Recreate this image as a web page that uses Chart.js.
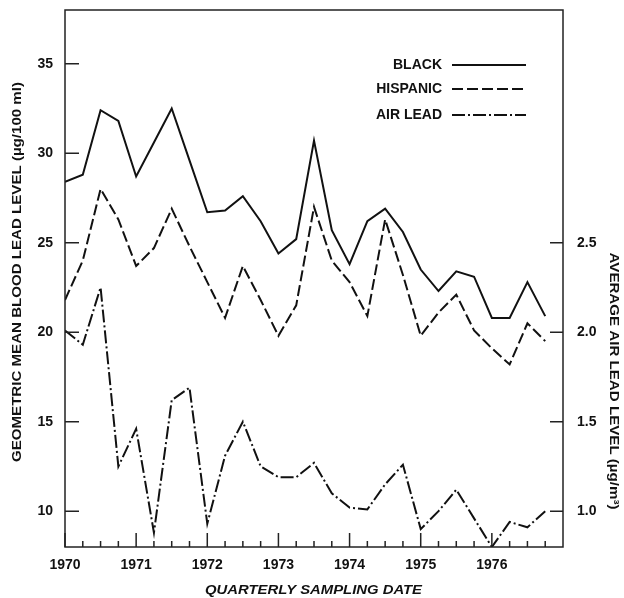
<!DOCTYPE html>
<html>
<head>
<meta charset="utf-8">
<script src="https://cdn.jsdelivr.net/npm/chart.js@4.4.1/dist/chart.umd.min.js"></script>
<style>
html,body{margin:0;padding:0;background:#fff;}
canvas{display:block;}
</style>
</head>
<body>
<canvas id="c" width="624" height="598"></canvas>
<script>
const quarters = [1970, 1970.25, 1970.5, 1970.75, 1971, 1971.25, 1971.5, 1971.75,
  1972, 1972.25, 1972.5, 1972.75, 1973, 1973.25, 1973.5, 1973.75,
  1974, 1974.25, 1974.5, 1974.75, 1975, 1975.25, 1975.5, 1975.75,
  1976, 1976.25, 1976.5, 1976.75];
const black = [28.4, 28.8, 32.4, 31.8, 28.7, 30.6, 32.5, 29.6, 26.7, 26.8, 27.6, 26.2, 24.4, 25.2,
  30.7, 25.7, 23.8, 26.2, 26.9, 25.6, 23.5, 22.3, 23.4, 23.1, 20.8, 20.8, 22.8, 20.9];
const hispanic = [21.8, 24.0, 28.0, 26.3, 23.7, 24.7, 26.9, 24.8, 22.8, 20.8, 23.7, 21.8, 19.8, 21.5,
  27.0, 24.0, 22.8, 20.9, 26.3, 23.2, 19.8, 21.1, 22.1, 20.1, 19.1, 18.2, 20.5, 19.5];
const airLead = [2.01, 1.93, 2.25, 1.25, 1.46, 0.88, 1.62, 1.69, 0.93, 1.31, 1.50, 1.25, 1.19, 1.19,
  1.27, 1.10, 1.02, 1.01, 1.15, 1.26, 0.90, 1.00, 1.12, 0.96, 0.80, 0.94, 0.91, 1.00];
const yearTicks = [1970, 1971, 1972, 1973, 1974, 1975, 1976];
const leftTicks = [10, 15, 20, 25, 30, 35];
const rightTicks = [1.0, 1.5, 2.0, 2.5];
const seriesNames = ['BLACK', 'HISPANIC', 'AIR LEAD'];
const leftTitle = 'GEOMETRIC MEAN BLOOD LEAD LEVEL (\u00b5g/100 ml)';
const rightTitle = 'AVERAGE AIR LEAD LEVEL (\u00b5g/m\u00b3)';
const bottomTitle = 'QUARTERLY SAMPLING DATE';

const INK = '#111';
const FONT = '"Liberation Sans", Arial, Helvetica, sans-serif';
const dashes = [[], [11, 4], [13, 3, 2, 3]];

function pts(arr) { return arr.map((v, i) => ({ x: quarters[i], y: v })); }

const deco = {
  id: 'deco',
  afterDraw(chart) {
    const { ctx, chartArea: a, scales } = chart;
    ctx.save();
    ctx.strokeStyle = '#222';
    ctx.lineWidth = 1.5;
    ctx.strokeRect(a.left, a.top, a.right - a.left, a.bottom - a.top);
    ctx.beginPath();
    leftTicks.forEach(v => {
      const y = scales.y.getPixelForValue(v);
      ctx.moveTo(a.left, y); ctx.lineTo(a.left + 14, y);
    });
    rightTicks.forEach(v => {
      const y = scales.y2.getPixelForValue(v);
      ctx.moveTo(a.right, y); ctx.lineTo(a.right - 13, y);
    });
    quarters.forEach(q => {
      const x = scales.x.getPixelForValue(q);
      const len = yearTicks.includes(q) ? 14 : 6;
      ctx.moveTo(x, a.bottom); ctx.lineTo(x, a.bottom - len);
    });
    ctx.stroke();

    ctx.fillStyle = INK;
    ctx.textAlign = 'center';
    ctx.textBaseline = 'middle';
    function fitText(txt, cx, cy, rot, target, font) {
      ctx.save();
      ctx.font = font;
      const w = ctx.measureText(txt).width;
      ctx.translate(cx, cy);
      ctx.rotate(rot);
      ctx.scale(target / w, 1);
      ctx.fillText(txt, 0, 0);
      ctx.restore();
    }
    fitText(leftTitle, 17, 272, -Math.PI / 2, 380, 'bold 13px ' + FONT);
    fitText(rightTitle, 614, 381, Math.PI / 2, 257, 'bold 13px ' + FONT);
    fitText(bottomTitle, 313.5, 590, 0, 217, 'italic bold 13px ' + FONT);

    const ly = [65, 89, 115];
    ctx.font = 'bold 14px ' + FONT;
    ctx.textAlign = 'right';
    seriesNames.forEach((n, i) => {
      ctx.fillStyle = INK;
      ctx.fillText(n, 442, ly[i]);
      ctx.beginPath();
      ctx.setLineDash(dashes[i]);
      ctx.lineWidth = 2;
      ctx.strokeStyle = INK;
      ctx.moveTo(452, ly[i]); ctx.lineTo(526, ly[i]);
      ctx.stroke();
    });
    ctx.setLineDash([]);
    ctx.restore();
  }
};

const tickFont = { family: FONT, size: 14, weight: 'bold' };
function noPad(s) { s.paddingTop = 0; s.paddingBottom = 0; s.paddingLeft = 0; s.paddingRight = 0; }

new Chart(document.getElementById('c'), {
  type: 'line',
  data: {
    datasets: [
      { label: seriesNames[0], data: pts(black), yAxisID: 'y', borderColor: INK, borderWidth: 2, borderDash: dashes[0], pointRadius: 0, tension: 0, fill: false },
      { label: seriesNames[1], data: pts(hispanic), yAxisID: 'y', borderColor: INK, borderWidth: 2, borderDash: dashes[1], pointRadius: 0, tension: 0, fill: false },
      { label: seriesNames[2], data: pts(airLead), yAxisID: 'y2', borderColor: INK, borderWidth: 2, borderDash: dashes[2], pointRadius: 0, tension: 0, fill: false }
    ]
  },
  options: {
    responsive: false,
    devicePixelRatio: 1,
    animation: false,
    layout: { padding: { top: 10, left: 0, right: 0, bottom: 0 } },
    plugins: { legend: { display: false }, tooltip: { enabled: false } },
    scales: {
      x: {
        type: 'linear', min: 1970, max: 1977,
        grid: { display: false, drawTicks: false }, border: { display: false },
        afterBuildTicks: s => { s.ticks = yearTicks.map(v => ({ value: v })); },
        ticks: { padding: 10, font: tickFont, color: INK, maxRotation: 0, autoSkip: false, callback: v => String(v) },
        afterFit: s => { s.height = 51; noPad(s); }
      },
      y: {
        type: 'linear', position: 'left', min: 8, max: 38,
        grid: { display: false, drawTicks: false }, border: { display: false },
        afterBuildTicks: s => { s.ticks = leftTicks.map(v => ({ value: v })); },
        ticks: { padding: 12, font: tickFont, color: INK, callback: v => String(v) },
        afterFit: s => { s.width = 65; noPad(s); }
      },
      y2: {
        type: 'linear', position: 'right', min: 0.8, max: 3.8,
        grid: { display: false, drawTicks: false }, border: { display: false },
        afterBuildTicks: s => { s.ticks = rightTicks.map(v => ({ value: v })); },
        ticks: { padding: 14, font: tickFont, color: INK, callback: v => Number(v).toFixed(1) },
        afterFit: s => { s.width = 61; noPad(s); }
      }
    }
  },
  plugins: [deco]
});
</script>
</body>
</html>
